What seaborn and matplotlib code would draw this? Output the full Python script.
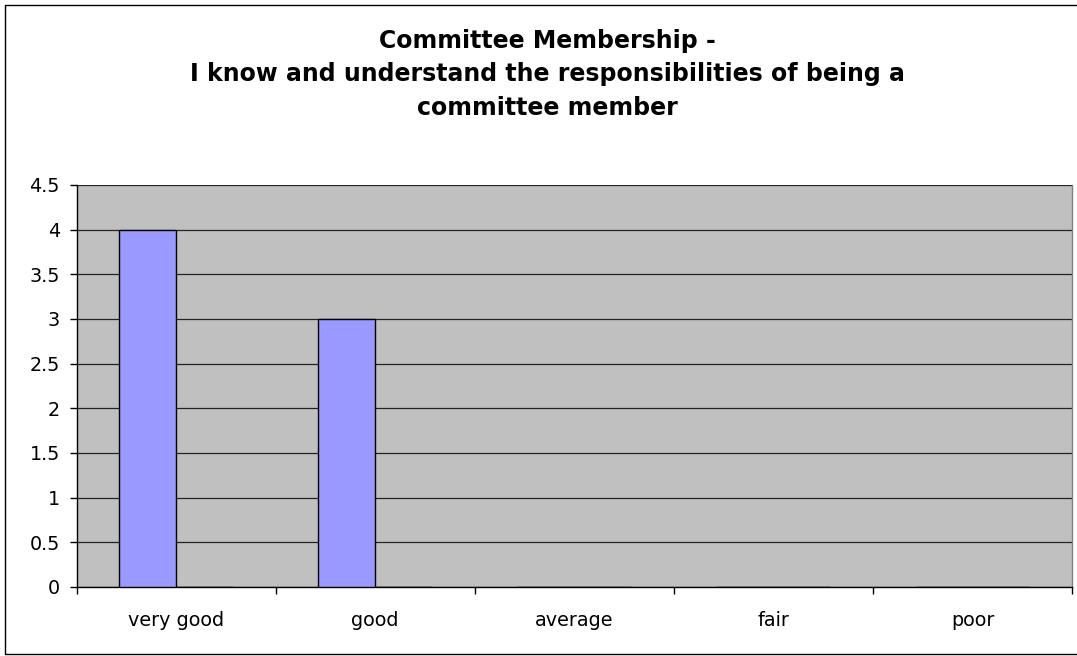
import matplotlib
matplotlib.use("Agg")
import matplotlib.pyplot as plt
from matplotlib.lines import Line2D
import numpy as np
import pandas as pd
import seaborn as sns

# Survey responses
ratings = ["very good", "good", "average", "fair", "poor"]
responses = [4, 3, 0, 0, 0]
second_series = [0, 0, 0, 0, 0]
series_names = ["Series 1", "Series 2"]
y_ticks = [0, 0.5, 1, 1.5, 2, 2.5, 3, 3.5, 4, 4.5]
title_text = ("Committee Membership -\n"
              "I know and understand the responsibilities of being a\n"
              "committee member")

df = pd.DataFrame({
    "rating": ratings * 2,
    "count": responses + second_series,
    "series": [series_names[0]] * len(ratings) + [series_names[1]] * len(ratings),
})

sns.set_style("white")
plt.rcParams["font.family"] = ["DejaVu Sans"]
plt.rcParams["text.color"] = "black"
plt.rcParams["xtick.color"] = "black"
plt.rcParams["ytick.color"] = "black"

W, H = 1077, 656
fig = plt.figure(figsize=(W / 100, H / 100), dpi=100)
fig.patch.set_facecolor("white")
ax = fig.add_axes([76.5 / W, 1 - 587 / H, (1072 - 76.5) / W, (587 - 185) / H])
ax.set_facecolor("#C0C0C0")

sns.barplot(data=df, x="rating", y="count", hue="series", order=ratings,
            palette=["#9999FF", "#9999FF"], saturation=1, width=4 / 7, gap=0,
            edgecolor="black", linewidth=1.0, legend=False, ax=ax, zorder=3)

# Axis limits and ticks
ax.set_xlim(-0.5, len(ratings) - 0.5)
ax.set_ylim(0, 4.5)
ax.set_yticks(y_ticks)
ax.set_yticklabels([f"{v:g}" for v in y_ticks], fontsize=13.8, color="black")
ax.set_xticks(np.arange(-0.5, len(ratings), 1.0))
ax.set_xticklabels([""] * (len(ratings) + 1))
ax.set_xticks(np.arange(len(ratings)), minor=True)
ax.set_xticklabels(ratings, minor=True, fontsize=13.8, color="black")
ax.tick_params(axis="x", which="major", length=5, width=1, color="black", direction="out", bottom=True)
ax.tick_params(axis="x", which="minor", length=0, pad=17)
ax.tick_params(axis="y", length=5, width=1, color="black", direction="out", pad=7, left=True)
ax.set_xlabel("")
ax.set_ylabel("")

ax.yaxis.grid(True, color="#222222", linewidth=0.9, zorder=1)
ax.set_axisbelow(True)

for side in ["left", "bottom"]:
    ax.spines[side].set_visible(True)
    ax.spines[side].set_color("black")
    ax.spines[side].set_linewidth(1.0)
ax.spines["top"].set_visible(False)
ax.spines["right"].set_visible(True)
ax.spines["right"].set_color("#808080")
ax.spines["right"].set_linewidth(1.0)

fig.text(547 / W, 1 - 29 / H, title_text, ha="center", va="top", color="black",
         fontsize=17, fontweight="bold", linespacing=1.5)

# Chart frame
frame_kw = dict(color="black", linewidth=1.0, transform=fig.transFigure)
fig.add_artist(Line2D([4.5 / W, 4.5 / W], [1 - 5 / H, 1 - 654 / H], **frame_kw))
fig.add_artist(Line2D([4.5 / W, 1.0], [1 - 5 / H, 1 - 5 / H], **frame_kw))
fig.add_artist(Line2D([4.5 / W, 1.0], [1 - 654 / H, 1 - 654 / H], **frame_kw))

fig.savefig("out.png", dpi=100)
